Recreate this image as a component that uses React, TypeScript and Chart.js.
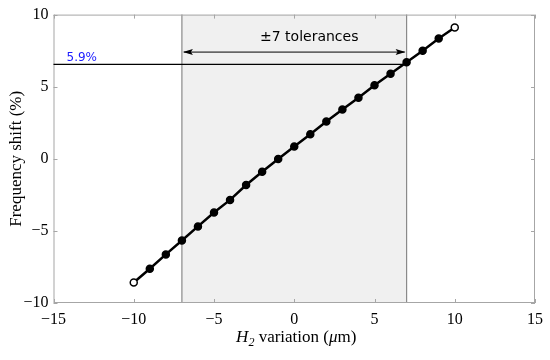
import React, { useEffect, useRef } from "react";
import { Chart, registerables } from "chart.js";
Chart.register(...registerables);

const xValues = [-10, -9, -8, -7, -6, -5, -4, -3, -2, -1, 0, 1, 2, 3, 4, 5, 6, 7, 8, 9, 10];
const shiftValues = [-8.58, -7.62, -6.63, -5.67, -4.69, -3.72, -2.85, -1.82, -0.9, -0.01, 0.86, 1.7, 2.58, 3.42, 4.23, 5.1, 5.9, 6.7, 7.5, 8.35, 9.1];
const xTicks = [-15, -10, -5, 0, 5, 10, 15];
const yTicks = [-10, -5, 0, 5, 10];
const tolerance = 7;
const refLineY = 6.55;
const arrowY = 7.4;
const refLabel = "5.9%";
const toleranceLabel = "±7 tolerances";

const SERIF = "'Liberation Serif', 'DejaVu Serif', serif";
const SANS = "'DejaVu Sans', Verdana, sans-serif";

const fmt = (v: number) => (v < 0 ? "\u2212" + Math.abs(v) : String(v));

const overlay = {
  id: "overlay",
  beforeDatasetsDraw(chart: any) {
    const { ctx, chartArea: a, scales } = chart;
    const xs = scales.x, ys = scales.y;
    const xl = xs.getPixelForValue(-tolerance);
    const xr = xs.getPixelForValue(tolerance);
    ctx.save();
    ctx.fillStyle = "#f0f0f0";
    ctx.fillRect(xl, a.top, xr - xl, a.bottom - a.top);
    ctx.strokeStyle = "#8a8a8a";
    ctx.lineWidth = 1.2;
    ctx.beginPath();
    ctx.moveTo(xl, a.top); ctx.lineTo(xl, a.bottom);
    ctx.moveTo(xr, a.top); ctx.lineTo(xr, a.bottom);
    ctx.stroke();
    // frame
    ctx.strokeStyle = "#a6a6a6";
    ctx.lineWidth = 1;
    ctx.strokeRect(a.left + 0.5, a.top + 0.5, a.right - a.left - 1, a.bottom - a.top - 1);
    // inner ticks
    ctx.beginPath();
    xTicks.forEach((t) => {
      const p = Math.round(xs.getPixelForValue(t)) + 0.5;
      ctx.moveTo(p, a.bottom); ctx.lineTo(p, a.bottom - 4);
      ctx.moveTo(p, a.top); ctx.lineTo(p, a.top + 4);
    });
    yTicks.forEach((t) => {
      const p = Math.round(ys.getPixelForValue(t)) + 0.5;
      ctx.moveTo(a.left, p); ctx.lineTo(a.left + 4, p);
      ctx.moveTo(a.right, p); ctx.lineTo(a.right - 4, p);
    });
    ctx.stroke();
    // reference line
    const yl = ys.getPixelForValue(refLineY);
    ctx.strokeStyle = "#000";
    ctx.lineWidth = 1.3;
    ctx.beginPath();
    ctx.moveTo(a.left, yl); ctx.lineTo(xr, yl);
    ctx.stroke();
    // arrow
    const ya = ys.getPixelForValue(arrowY);
    ctx.lineWidth = 1;
    ctx.beginPath();
    ctx.moveTo(xl + 2, ya); ctx.lineTo(xr - 2, ya);
    ctx.stroke();
    ctx.fillStyle = "#000";
    ctx.beginPath();
    ctx.moveTo(xl + 1, ya); ctx.lineTo(xl + 11, ya - 3); ctx.lineTo(xl + 9, ya); ctx.lineTo(xl + 11, ya + 3); ctx.closePath();
    ctx.fill();
    ctx.beginPath();
    ctx.moveTo(xr - 1, ya); ctx.lineTo(xr - 11, ya - 3); ctx.lineTo(xr - 9, ya); ctx.lineTo(xr - 11, ya + 3); ctx.closePath();
    ctx.fill();
    // labels
    ctx.font = `14px ${SANS}`;
    ctx.textAlign = "center";
    ctx.textBaseline = "middle";
    ctx.fillText(toleranceLabel, (xl + xr) / 2 + 15, ya - 15);
    ctx.fillStyle = "#1a1aff";
    ctx.font = `12px ${SANS}`;
    ctx.textAlign = "left";
    ctx.textBaseline = "alphabetic";
    ctx.fillText(refLabel, a.left + 13, yl - 3);
    ctx.restore();
  },
  afterDraw(chart: any) {
    const { ctx, chartArea: a } = chart;
    ctx.save();
    ctx.fillStyle = "#000";
    ctx.textBaseline = "alphabetic";
    const parts = [
      { t: "H", f: `italic 17px ${SERIF}`, dy: 0 },
      { t: "2", f: `italic 12px ${SERIF}`, dy: 4 },
      { t: " variation (", f: `17px ${SERIF}`, dy: 0 },
      { t: "\u03bc", f: `italic 17px ${SERIF}`, dy: 0 },
      { t: "m)", f: `17px ${SERIF}`, dy: 0 },
    ];
    let total = 0;
    parts.forEach((p) => { ctx.font = p.f; total += ctx.measureText(p.t).width; });
    let x = (a.left + a.right) / 2 - total / 2 + 2;
    const base = 342;
    ctx.textAlign = "left";
    parts.forEach((p) => {
      ctx.font = p.f;
      ctx.fillText(p.t, x, base + p.dy);
      x += ctx.measureText(p.t).width;
    });
    ctx.translate(17, (a.top + a.bottom) / 2);
    ctx.rotate(-Math.PI / 2);
    ctx.font = `17px ${SERIF}`;
    ctx.textAlign = "center";
    ctx.textBaseline = "middle";
    ctx.fillText("Frequency shift (%)", 0, 0);
    ctx.restore();
  },
};

export default function App() {
  const ref = useRef<HTMLCanvasElement>(null);
  useEffect(() => {
    if (!ref.current) return;
    const n = xValues.length;
    const chart = new Chart(ref.current, {
      type: "line",
      data: {
        datasets: [
          {
            data: xValues.map((x, i) => ({ x, y: shiftValues[i] })),
            borderColor: "#000",
            borderWidth: 2.5,
            pointRadius: 3.5,
            pointBorderWidth: 1.5,
            pointBorderColor: "#000",
            pointBackgroundColor: (c: any) => (c.dataIndex === 0 || c.dataIndex === n - 1 ? "#fff" : "#000"),
            tension: 0,
          },
        ],
      },
      options: {
        responsive: false,
        animation: false,
        layout: { padding: { left: 0, right: 15, top: 12, bottom: 0 } },
        plugins: { legend: { display: false }, tooltip: { enabled: false } },
        scales: {
          x: {
            type: "linear",
            min: -15,
            max: 15,
            afterBuildTicks: (s: any) => { s.ticks = xTicks.map((v) => ({ value: v })); },
            afterFit: (s: any) => { s.height = 57; },
            grid: { display: false, drawTicks: false },
            border: { display: false },
            ticks: { color: "#000", padding: 7, font: { family: SERIF, size: 16 }, callback: (v: any) => fmt(Number(v)), maxRotation: 0 },
          },
          y: {
            type: "linear",
            min: -10,
            max: 10,
            afterBuildTicks: (s: any) => { s.ticks = yTicks.map((v) => ({ value: v })); },
            afterFit: (s: any) => { s.width = 53.5; },
            grid: { display: false, drawTicks: false },
            border: { display: false },
            ticks: { color: "#000", padding: 5, font: { family: SERIF, size: 16 }, callback: (v: any) => fmt(Number(v)) },
          },
        },
      },
      plugins: [overlay],
    });
    return () => chart.destroy();
  }, []);
  return (
    <div style={{ position: "fixed", left: 0, top: 0, width: 550, height: 360, background: "#fff" }}>
      <canvas ref={ref} width={550} height={360} />
    </div>
  );
}
